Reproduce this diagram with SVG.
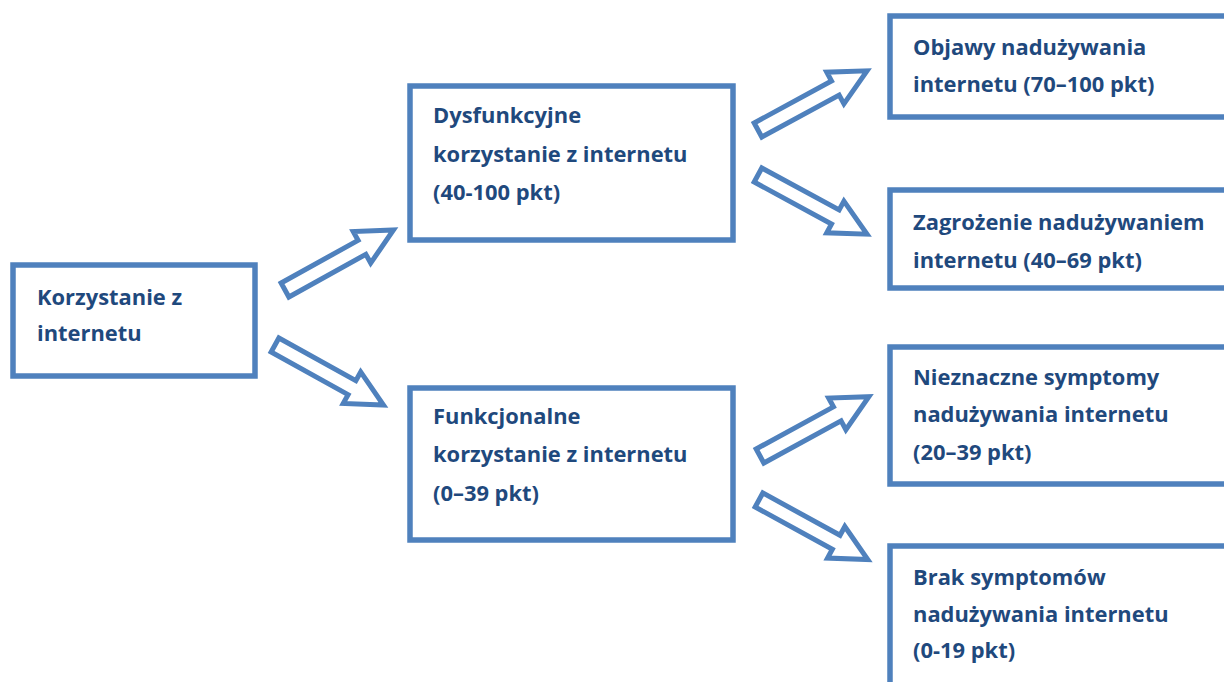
<svg xmlns="http://www.w3.org/2000/svg" width="1224" height="682" viewBox="0 0 1224 682">
<defs>
<style>
.box{fill:#fff;stroke:#4F81BD;stroke-width:5.5}
.arr{fill:#fff;stroke:#4F81BD;stroke-width:5;stroke-linejoin:miter}
.t{font-family:"Open Sans","Liberation Sans",sans-serif;font-weight:bold;font-size:21.9px;fill:#1F497D}
</style>
<path id="arrow" d="M0,-8 L88,-8 L88,-18 L124,0 L88,18 L88,8 L0,8 Z"/>
</defs>
<rect width="1224" height="682" fill="#fff"/>
<g id="connectors">
<use href="#arrow" class="arr" transform="translate(285,290) rotate(-29)"/>
<use href="#arrow" class="arr" transform="translate(275,345) rotate(29)"/>
<use href="#arrow" class="arr" transform="translate(758,130) rotate(-28.5)"/>
<use href="#arrow" class="arr" transform="translate(758,175) rotate(28.5)"/>
<use href="#arrow" class="arr" transform="translate(760,456) rotate(-28.6)"/>
<use href="#arrow" class="arr" transform="translate(759,500) rotate(28.7)"/>
</g>
<g id="n-korzystanie">
<rect class="box" x="13" y="265" width="242" height="111"/>
<text class="t" x="37" y="305">Korzystanie z</text>
<text class="t" x="37" y="341">internetu</text>
</g>
<g id="n-dysfunkcyjne">
<rect class="box" x="410" y="86" width="323" height="154"/>
<text class="t" x="433" y="123">Dysfunkcyjne</text>
<text class="t" x="433" y="162">korzystanie z internetu</text>
<text class="t" x="433" y="200">(40-100 pkt)</text>
</g>
<g id="n-funkcjonalne">
<rect class="box" x="410" y="388" width="323" height="152"/>
<text class="t" x="433" y="424">Funkcjonalne</text>
<text class="t" x="433" y="462">korzystanie z internetu</text>
<text class="t" x="433" y="501">(0–39 pkt)</text>
</g>
<g id="n-objawy">
<rect class="box" x="890" y="16" width="400" height="101"/>
<text class="t" x="913" y="55">Objawy nadużywania</text>
<text class="t" x="913" y="92">internetu (70–100 pkt)</text>
</g>
<g id="n-zagrozenie">
<rect class="box" x="890" y="190" width="400" height="98"/>
<text class="t" x="913" y="230">Zagrożenie nadużywaniem</text>
<text class="t" x="913" y="268">internetu (40–69 pkt)</text>
</g>
<g id="n-nieznaczne">
<rect class="box" x="890" y="347" width="400" height="137"/>
<text class="t" x="913" y="385">Nieznaczne symptomy</text>
<text class="t" x="913" y="422">nadużywania internetu</text>
<text class="t" x="913" y="460">(20–39 pkt)</text>
</g>
<g id="n-brak">
<rect class="box" x="890" y="546" width="400" height="200"/>
<text class="t" x="913" y="585">Brak symptomów</text>
<text class="t" x="913" y="622">nadużywania internetu</text>
<text class="t" x="913" y="658">(0-19 pkt)</text>
</g>
</svg>
